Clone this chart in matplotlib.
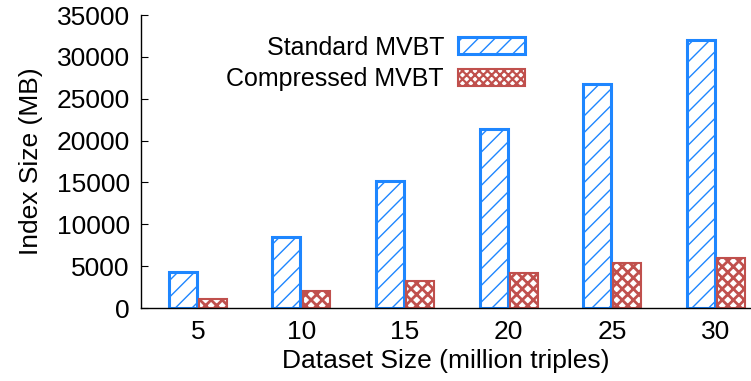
import numpy as np
import matplotlib
matplotlib.use("Agg")
import matplotlib.pyplot as plt

# ── DATA ──────────────────────────────────────────────────────────────────────

dataset_sizes = ["5", "10", "15", "20", "25", "30"]
standard_mvbt = [4300, 8480, 15170, 21380, 26760, 32010]
compressed_mvbt = [1050, 2030, 3225, 4180, 5375, 5970]

BLUE = "#1E86FF"
RED = "#C0504D"

# ── PLOT ──────────────────────────────────────────────────────────────────────

plt.rcParams['font.family'] = ['Liberation Sans', 'DejaVu Sans']

fig = plt.figure(figsize=(7.51, 3.81), dpi=100)
ax = fig.add_axes([0.1877, 0.1916, 0.8123, 0.769])

x = np.arange(len(dataset_sizes))
w = 0.27
off = 0.145

b1 = ax.bar(x - off, standard_mvbt, w, facecolor="white", edgecolor=BLUE,
            linewidth=2.2, hatch="//", label="Standard MVBT")
b2 = ax.bar(x + off, compressed_mvbt, w, facecolor="white", edgecolor=RED,
            linewidth=1.5, hatch="xxx", label="Compressed MVBT")
for p in b1:
    if hasattr(p, "set_hatch_linewidth"):
        p.set_hatch_linewidth(1.0)
for p in b2:
    if hasattr(p, "set_hatch_linewidth"):
        p.set_hatch_linewidth(2.0)

ax.set_xlim(-0.55, 5.34)
ax.set_ylim(0, 35000)
ax.set_yticks(np.arange(0, 35001, 5000))
ax.set_xticks(x)
ax.set_xticklabels(dataset_sizes)

ax.spines['top'].set_visible(False)
ax.spines['right'].set_visible(False)
ax.spines['left'].set_linewidth(1.0)
ax.spines['bottom'].set_linewidth(1.0)
ax.tick_params(axis='y', direction='in', length=5, labelsize=19, pad=8)
ax.tick_params(axis='x', length=0, labelsize=19, pad=8.5)

ax.set_ylabel("Index Size (MB)", fontsize=19, labelpad=10)
ax.set_xlabel("Dataset Size (million triples)", fontsize=19, labelpad=4)

leg = ax.legend(loc="upper right", bbox_to_anchor=(0.63, 0.93), frameon=False,
                markerfirst=False, fontsize=18, handlelength=2.7,
                handleheight=0.65, handletextpad=0.55, labelspacing=0.3,
                borderpad=0, borderaxespad=0)
for h, lw in zip(leg.legend_handles, [1.0, 1.6]):
    if hasattr(h, "set_hatch_linewidth"):
        h.set_hatch_linewidth(lw)
    if h.get_hatch() == "xxx":
        h.set_hatch("xxxx")

fig.savefig("out.png", dpi=100)
